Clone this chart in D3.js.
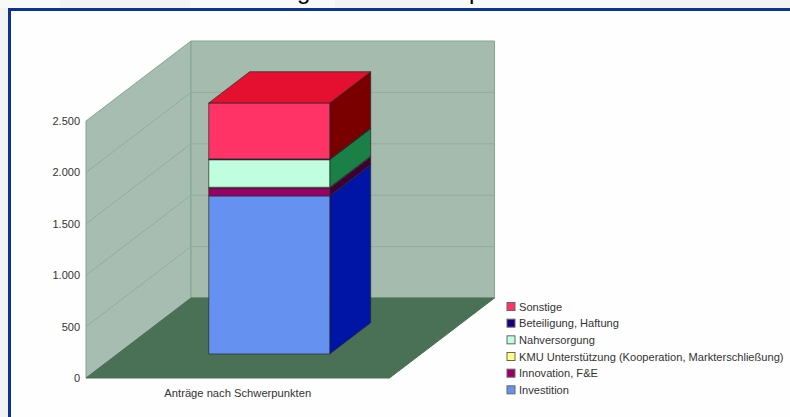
<!DOCTYPE html>
<html lang="de">
<head>
<meta charset="utf-8">
<title>Anträge nach Schwerpunkten</title>
<script src="https://cdn.jsdelivr.net/npm/d3@7"></script>
<style>
    html, body { margin: 0; padding: 0; background: #f3f3f3; overflow: hidden; }
    text { font-family: "Liberation Sans", Arial, sans-serif; }
</style>
</head>
<body>
<script>
const categories = ["Anträge nach Schwerpunkten"];
const seriesNames = [
    "Investition",
    "Innovation, F&E",
    "KMU Unterstützung (Kooperation, Markterschließung)",
    "Nahversorgung",
    "Beteiligung, Haftung",
    "Sonstige"
];
const seriesValues = [1538, 76, 8, 268, 8, 544];
const yTicks = [0, 500, 1000, 1500, 2000, 2500];

const frontColors = ["#6591f0", "#990066", "#ffff80", "#bfffdf", "#1a0080", "#ff3366"];
const sideColors = ["#0015a5", "#3d0033", "#666633", "#1a8045", "#0a0040", "#7a0000"];
const topColor = "#e5102f";

const width = 790;
const height = 417;

const svg = d3.select("body")
    .append("svg")
    .attr("width", width)
    .attr("height", height)
    .style("display", "block");

// page behind the panel
const patches = [[0, 60], [190, 95], [285, 50], [440, 200]];
svg.selectAll("rect.patch")
    .data(patches)
    .enter()
    .append("rect")
    .attr("class", "patch")
    .attr("x", (d) => d[0])
    .attr("y", 0)
    .attr("width", (d) => d[1])
    .attr("height", 8)
    .attr("fill", "#f9f9f9");

// the page heading sits mostly above the window, only its descenders show
svg.append("text")
    .attr("x", 397)
    .attr("y", -1)
    .attr("text-anchor", "middle")
    .attr("font-size", 24)
    .attr("fill", "#000")
    .text("Anträge nach Schwerpunkten");

svg.append("rect")
    .attr("x", 9.5)
    .attr("y", 9.5)
    .attr("width", width)
    .attr("height", height)
    .attr("fill", "#fefefe")
    .attr("stroke", "#0c3296")
    .attr("stroke-width", 3);

// scales on the front plane, plus two for the depth offset
const x = d3.scaleBand().domain(categories).range([86, 389.5]).padding(0.43);
const y = d3.scaleLinear().domain([0, 2500]).range([378, 121]);
const depthX = d3.scaleLinear().domain([0, 1]).range([0, 105]);
const depthY = d3.scaleLinear().domain([0, 1]).range([0, -80]);

const project = (px, value, depth) => [px + depthX(depth), y(value) + depthY(depth)];
const face = (points) => d3.line()(points) + "Z";

const xMin = x.range()[0];
const xMax = x.range()[1];
const yMax = y.domain()[1];

// WALLS
const walls = svg.append("g");
walls.append("path")
    .attr("d", face([project(xMin, 0, 0), project(xMin, yMax, 0), project(xMin, yMax, 1), project(xMin, 0, 1)]))
    .attr("fill", "#a8bdb1")
    .attr("stroke", "#82a692");
walls.append("path")
    .attr("d", face([project(xMin, 0, 1), project(xMin, yMax, 1), project(xMax, yMax, 1), project(xMax, 0, 1)]))
    .attr("fill", "#a5bbae")
    .attr("stroke", "#82a692");
walls.append("path")
    .attr("d", face([project(xMin, 0, 0), project(xMin, 0, 1), project(xMax, 0, 1), project(xMax, 0, 0)]))
    .attr("fill", "#4a7056")
    .attr("stroke", "#4a7056");

// grid lines run along the left wall and across the back wall
walls.selectAll("path.grid")
    .data(yTicks.slice(1, -1))
    .enter()
    .append("path")
    .attr("class", "grid")
    .attr("d", (d) => d3.line()([project(xMin, d, 0), project(xMin, d, 1), project(xMax, d, 1)]))
    .attr("fill", "none")
    .attr("stroke", "#8fae9d");

// STACKED BAR
const stackRow = Object.fromEntries(seriesNames.map((name, i) => [name, seriesValues[i]]));
const stacked = d3.stack().keys(seriesNames)([stackRow]);

const barLeft = x(categories[0]);
const barRight = barLeft + x.bandwidth();
const barFront = 0.3;
const barBack = 0.69;

const bar = svg.append("g")
    .attr("stroke", "#2a2a2a")
    .attr("stroke-opacity", 0.7)
    .attr("stroke-linejoin", "round");

const segments = bar.selectAll("g")
    .data(stacked)
    .enter()
    .append("g");

segments.append("path")
    .attr("d", (s) => face([
        project(barRight, s[0][0], barFront),
        project(barRight, s[0][1], barFront),
        project(barRight, s[0][1], barBack),
        project(barRight, s[0][0], barBack)
    ]))
    .attr("fill", (_, i) => sideColors[i]);

segments.append("path")
    .attr("d", (s) => face([
        project(barLeft, s[0][0], barFront),
        project(barLeft, s[0][1], barFront),
        project(barRight, s[0][1], barFront),
        project(barRight, s[0][0], barFront)
    ]))
    .attr("fill", (_, i) => frontColors[i]);

const total = d3.sum(seriesValues);
bar.append("path")
    .attr("d", face([
        project(barLeft, total, barFront),
        project(barLeft, total, barBack),
        project(barRight, total, barBack),
        project(barRight, total, barFront)
    ]))
    .attr("fill", topColor);

// AXES
const deFormat = d3.formatLocale({ decimal: ",", thousands: ".", grouping: [3], currency: ["", " €"] }).format(",d");

const yAxis = svg.append("g")
    .attr("transform", `translate(${xMin - 6}, 0)`)
    .call(d3.axisLeft(y).tickValues(yTicks).tickSize(0).tickPadding(0).tickFormat(deFormat));
yAxis.select(".domain").remove();
yAxis.selectAll("text")
    .attr("font-size", 11)
    .attr("fill", "#333");

const xAxis = svg.append("g")
    .attr("transform", `translate(0, ${y(0) + 11})`)
    .call(d3.axisBottom(x).tickSize(0).tickPadding(0));
xAxis.select(".domain").remove();
xAxis.selectAll("text")
    .attr("font-size", 11.2)
    .attr("fill", "#333");

// LEGEND, top of the stack first
const legendRows = d3.scaleBand()
    .domain(d3.range(seriesNames.length))
    .range([298.5, 398.5]);

const legend = svg.selectAll("g.legend")
    .data(seriesNames.map((name, i) => i).reverse())
    .enter()
    .append("g")
    .attr("class", "legend")
    .attr("transform", (_, row) => `translate(507, ${legendRows(row)})`);

legend.append("rect")
    .attr("y", 4)
    .attr("width", 8)
    .attr("height", 8)
    .attr("fill", (i) => frontColors[i])
    .attr("stroke", "#666");

legend.append("text")
    .attr("x", 12)
    .attr("y", 12)
    .attr("font-size", 11.1)
    .attr("fill", "#333")
    .text((i) => seriesNames[i]);
</script>
</body>
</html>
